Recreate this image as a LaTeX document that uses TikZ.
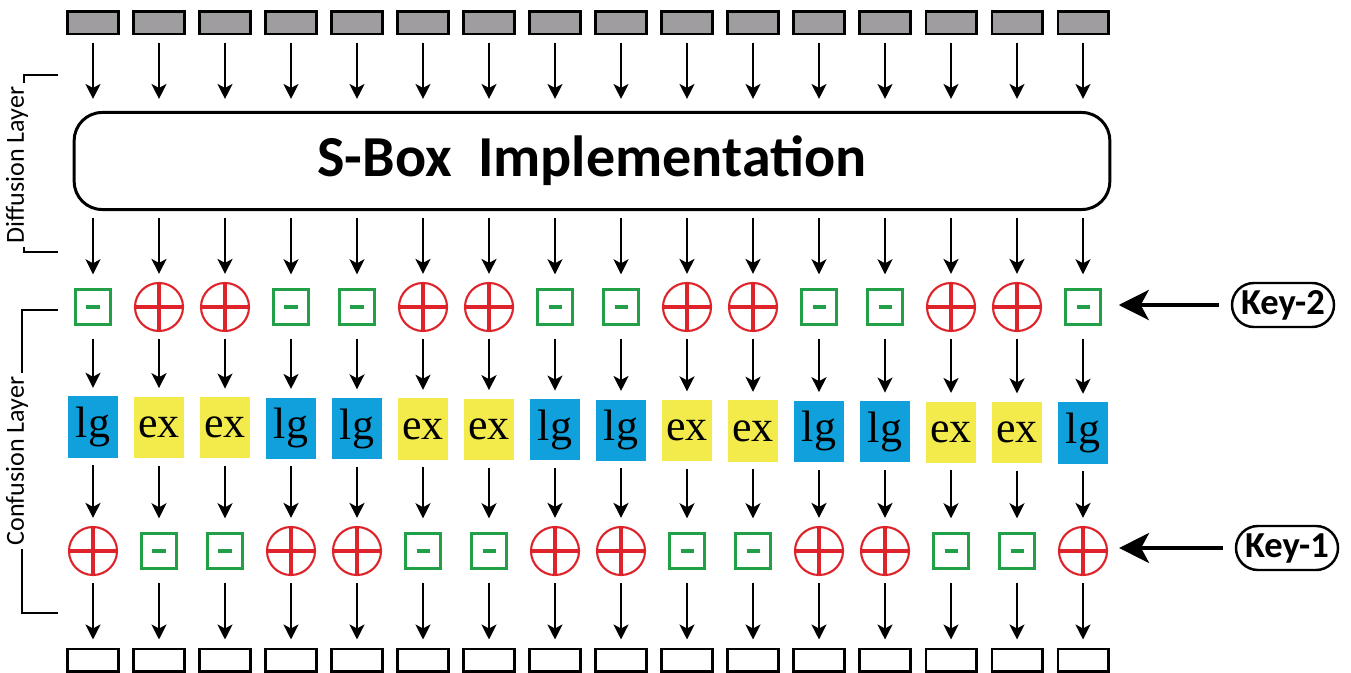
\documentclass[tikz,border=0pt]{standalone}
\usepackage{fontspec}
\setmainfont{Carlito}
\newfontfamily\cellfont{Liberation Serif}
\usepackage{tikz}
\usetikzlibrary{arrows.meta,positioning,calc,shapes.misc}

\definecolor{boxgray}{RGB}{160,157,161}
\definecolor{opred}{RGB}{222,35,42}
\definecolor{opgreen}{RGB}{34,160,72}
\definecolor{lgblue}{RGB}{16,161,221}
\definecolor{exyellow}{RGB}{243,234,75}

\begin{document}
\begin{tikzpicture}[x=0.01cm,y=-0.01cm,
    inbox/.style={draw,line width=0.85pt,fill=boxgray,minimum width=0.5cm,minimum height=0.22cm,inner sep=0pt},
    outbox/.style={draw,line width=0.85pt,fill=white,minimum width=0.5cm,minimum height=0.22cm,inner sep=0pt},
    sbox/.style={draw,line width=0.85pt,rounded corners=0.28cm,minimum width=10.35cm,minimum height=0.97cm,
        font=\fontsize{16.5}{18}\selectfont\bfseries},
    addop/.style={circle,draw=opred,line width=0.6pt,minimum size=0.48cm,inner sep=0pt,
        path picture={\draw[opred,line width=0.9pt]
            (path picture bounding box.north) -- (path picture bounding box.south)
            (path picture bounding box.west) -- (path picture bounding box.east);}},
    subop/.style={rectangle,fill=white,minimum size=0.48cm,inner sep=0pt,
        path picture={\draw[opgreen,line width=0.6pt]
            ([shift={(-0.175cm,-0.175cm)}]path picture bounding box.center) rectangle
            ([shift={(0.175cm,0.175cm)}]path picture bounding box.center);
          \draw[opgreen,line width=1.3pt]
            ([xshift=-0.065cm]path picture bounding box.center) -- ([xshift=0.065cm]path picture bounding box.center);}},
    cell/.style={minimum width=0.5cm,minimum height=0.61cm,inner sep=0pt,font=\cellfont\fontsize{12.5}{14}\selectfont},
    lgcell/.style={cell,fill=lgblue},
    excell/.style={cell,fill=exyellow},
    keytag/.style={rounded rectangle,draw,line width=0.7pt,minimum width=1.09cm,minimum height=0.44cm,inner sep=1pt,
        font=\fontsize{10.4}{12}\selectfont\bfseries},
    layertag/.style={rotate=90,fill=white,inner sep=1pt,font=\fontsize{7.4}{8}\selectfont},
    bracket/.style={line width=0.6pt},
    flow/.style={-{Stealth[length=0.15cm,width=0.15cm,inset=0.04cm]},line width=0.6pt,shorten <=0.07cm,shorten >=0.08cm},
    keyflow/.style={-{Stealth[length=0.3cm,width=0.3cm,inset=0.08cm]},line width=1.1pt,shorten <=0.12cm,shorten >=0.11cm}]

    \useasboundingbox (0,0) rectangle (1351,673);

    % S-Box
    \node[sbox] (sbox) at (592,161) {S-Box\ \ Implementation};

    % Columns
    \foreach \i in {1,...,16} {
        \pgfmathsetmacro\cx{93+66*(\i-1)}
        \pgfmathtruncatemacro\kind{mod(\i,4)>1}
        \ifnum\kind=1
            \def\ktwo{addop}\def\cellstyle{excell}\def\word{ex}\def\kone{subop}
        \else
            \def\ktwo{subop}\def\cellstyle{lgcell}\def\word{lg}\def\kone{addop}
        \fi
        \node[inbox] (in-\i) at (\cx,23) {};
        \node[\ktwo] (ktwo-\i) at (\cx,307) {};
        \node[\cellstyle] (cell-\i) at (\cx,{427+0.4*(\i-1)}) {\word};
        \node[\kone] (kone-\i) at (\cx,551) {};
        \node[outbox] (out-\i) at (\cx,660) {};

        \draw[flow,shorten >=0.12cm] (in-\i) -- (in-\i |- sbox.north);
        \draw[flow] (sbox.south -| ktwo-\i) -- (ktwo-\i);
        \draw[flow] (ktwo-\i) -- (cell-\i);
        \draw[flow] (cell-\i) -- (kone-\i);
        \draw[flow] (kone-\i) -- (out-\i);
    }

    % Keys
    \node[keytag] (key2) at (1283,305) {Key-2};
    \node[keytag] (key1) at (1287,548) {Key-1};
    \draw[keyflow] (key2.west) -- (key2.west -| ktwo-16.east);
    \draw[keyflow] (key1.west) -- (key1.west -| kone-16.east);

    % Layer brackets
    \draw[bracket] (58,75) -- (24,75) -- (24,252) -- (58,252);
    \node[layertag] (difftag) at (17,165) {Diffusion Layer};
    \draw[bracket] (58,310) -- (22,310) -- (22,613) -- (58,613);
    \node[layertag] (conftag) at (17,461) {Confusion Layer};
\end{tikzpicture}
\end{document}
